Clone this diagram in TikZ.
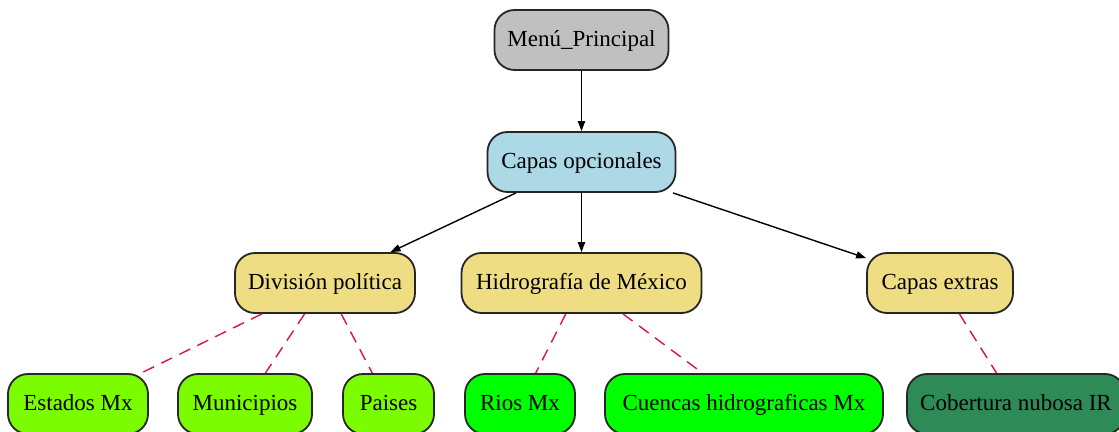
\documentclass[tikz,border=0pt]{standalone}
\usepackage{fontspec}
\setmainfont{Liberation Serif}
\usetikzlibrary{arrows.meta}
\definecolor{menugray}{RGB}{192,192,192}
\definecolor{lblue}{RGB}{173,216,230}
\definecolor{lgold}{RGB}{238,221,130}
\definecolor{lawn}{RGB}{124,252,0}
\definecolor{pgreen}{RGB}{0,255,0}
\definecolor{sgreen}{RGB}{46,139,87}
\definecolor{crim}{RGB}{220,20,60}
\begin{document}
\begin{tikzpicture}[x=0.5pt,y=-0.5pt,
  box/.style={draw=black!85, line width=0.9pt, rounded corners=10pt, minimum height=30pt,
    inner sep=0pt, text height=9.5pt, text depth=2.5pt,
    font=\fontsize{11.5}{13}\selectfont, text=black},
  arr/.style={-{Triangle[length=5pt,width=3.6pt]}, line width=0.7pt, black},
  redline/.style={crim, dash pattern=on 6pt off 4pt, line width=0.7pt}]
\useasboundingbox (0,0) rectangle (1119,432);
\node[box, fill=menugray, minimum width=87pt] (menu) at (581.5,40) {Menú\_Principal};
\node[box, fill=lblue, minimum width=94pt] (opc) at (581.5,162) {Capas opcionales};
\node[box, fill=lgold, minimum width=90pt] (div) at (325,283) {División política};
\node[box, fill=lgold, minimum width=120pt] (hid) at (581.5,283) {Hidrografía de México};
\node[box, fill=lgold, minimum width=73pt] (ext) at (940,283) {Capas extras};
\node[box, fill=lawn, minimum width=70pt] (est) at (78,404) {Estados Mx};
\node[box, fill=lawn, minimum width=67pt] (mun) at (245,404) {Municipios};
\node[box, fill=lawn, minimum width=45.5pt] (pai) at (388.5,404) {Paises};
\node[box, fill=pgreen, minimum width=55pt] (rio) at (520,404) {Rios Mx};
\node[box, fill=pgreen, minimum width=139pt] (cue) at (744,404) {Cuencas hidrograficas Mx};
\node[box, fill=sgreen, minimum width=109pt] (cob) at (1016,404) {Cobertura nubosa IR};
\draw[arr] (menu) -- (opc);
\draw[arr] (opc) -- (div);
\draw[arr] (opc) -- (hid);
\draw[arr] (opc) -- (ext);
\draw[redline] (div) -- (est);
\draw[redline] (div) -- (mun);
\draw[redline] (div) -- (pai);
\draw[redline] (hid) -- (rio);
\draw[redline] (hid) -- (cue);
\draw[redline] (ext) -- (cob);
\end{tikzpicture}
\end{document}
